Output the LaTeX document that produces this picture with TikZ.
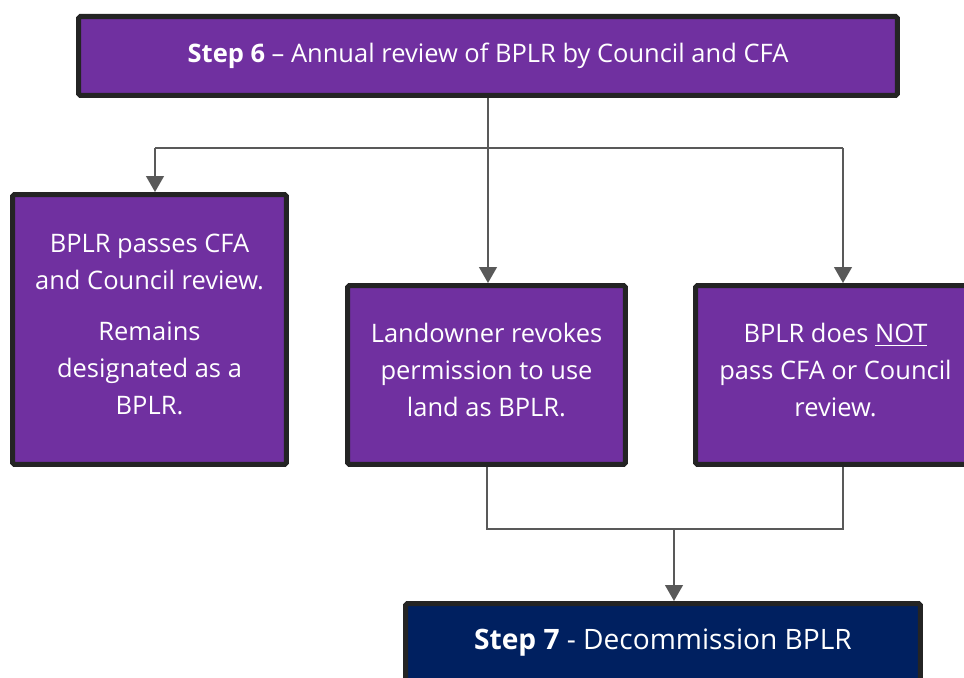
\documentclass[tikz,border=0pt]{standalone}
\usepackage{fontspec}
\setmainfont{Open Sans}
\usetikzlibrary{arrows.meta}
\definecolor{stepPurple}{HTML}{7030A0}
\definecolor{stepNavy}{HTML}{002060}
\definecolor{boxEdge}{HTML}{242424}
\definecolor{connGray}{HTML}{595959}

\begin{document}
\begin{tikzpicture}[x=0.02cm, y=-0.02cm,
        box/.style={draw=boxEdge, line width=2.85pt, fill=stepPurple, text=white,
            align=center, inner sep=0pt, rounded corners=1pt,
            font=\fontsize{14.5pt}{21pt}\selectfont},
        conn/.style={draw=connGray, line width=1.1pt},
        arr/.style={-{Triangle[width=10pt,length=9pt]}}]
            % 页面范围,右边和下边的框被截掉
            \useasboundingbox (0,0) rectangle (964,678);
            \clip (0,0) rectangle (964,678);
            \node[box, minimum width=16.38cm, minimum height=1.58cm] (step6) at (488,56)
                {\textbf{Step 6} – Annual review of BPLR by Council and CFA};
            \node[box, minimum width=5.48cm, minimum height=5.4cm] (pass) at (149.5,329.5)
                {BPLR passes CFA\\and Council review.\\[8pt]Remains\\designated as a\\BPLR.\\[-15pt]};
            \node[box, minimum width=5.56cm, minimum height=3.58cm] (revoke) at (486.5,375)
                {Landowner revokes\\permission to use\\land as BPLR.\\[-15pt]};
            \node[box, minimum width=5.6cm, minimum height=3.58cm] (fail) at (835.5,375)
                {BPLR does \underline{NOT}\\pass CFA or Council\\review.\\[-15pt]};
            \node[box, fill=stepNavy, minimum width=10.3cm, minimum height=1.58cm,
                font=\fontsize{16pt}{21pt}\selectfont] (step7) at (663,643)
                {\textbf{Step 7} - Decommission BPLR};
            % 分叉的点
            \coordinate (forkL) at (155,148);
            \coordinate (forkR) at (843,148);
            \coordinate (joinL) at (487,529);
            \coordinate (joinM) at (674,529);
            \coordinate (joinR) at (843,529);
            \draw[conn] (forkL) -- (forkR);
            \draw[conn, arr] (forkL) -- (forkL |- pass.north);
            \draw[conn, arr] (forkR) -- (forkR |- fail.north);
            \draw[conn, arr] (step6.south) -- (step6.south |- revoke.north);
            \draw[conn] (revoke.south -| joinL) -- (joinL) -- (joinR) -- (fail.south -| joinR);
            \draw[conn, arr] (joinM) -- (joinM |- step7.north);
        \end{tikzpicture}
\end{document}
